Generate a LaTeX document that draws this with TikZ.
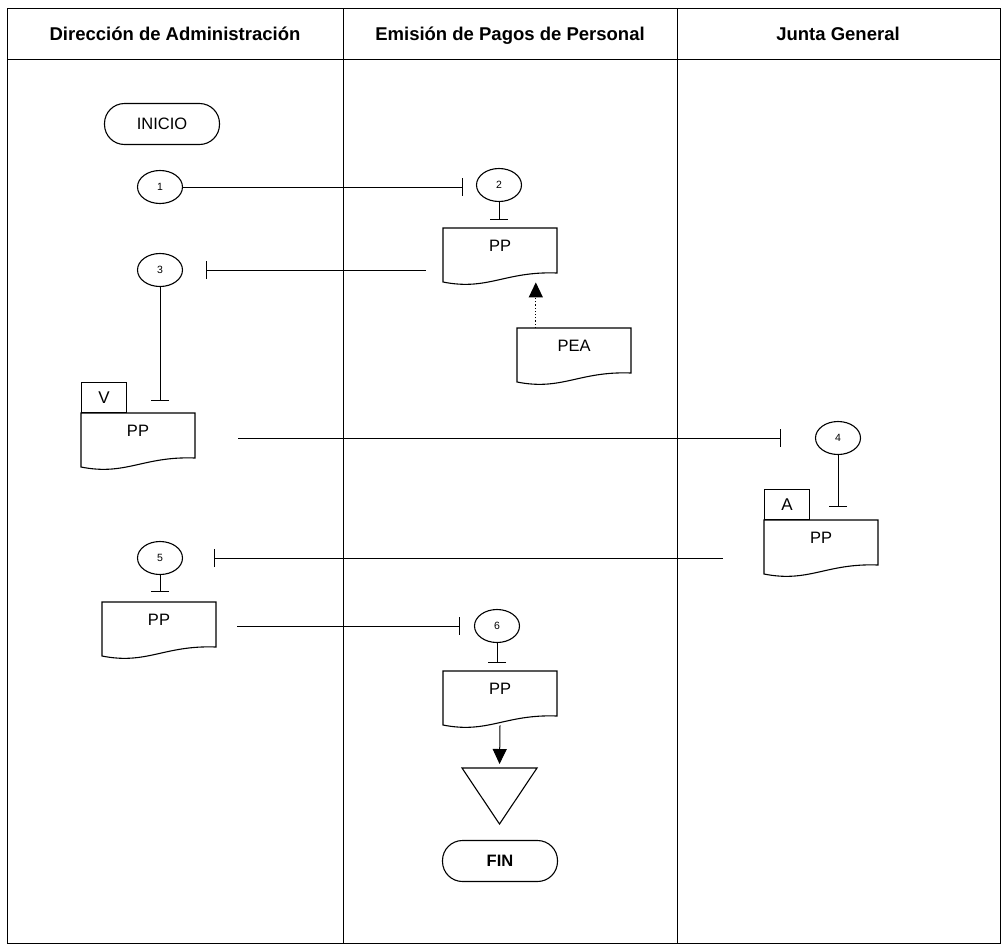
\documentclass[tikz,border=0pt]{standalone}
\usepackage{fontspec}
\setmainfont{Liberation Sans}
\usetikzlibrary{arrows.meta,shapes.geometric,calc}
\newcommand\docshape[4]{%
  \draw[docline] (#2,#3) -- (#2+114,#3) -- (#2+114,#3+45) .. controls (#2+62,#3+43) and (#2+45,#3+63) .. (#2,#3+54) -- cycle;
  \node[docnode] (#1) at (#2+57,#3) {#4};
}
\begin{document}
\begin{tikzpicture}[x=1pt,y=-1pt,
  lane/.style={line width=1pt},
  hdr/.style={font=\bfseries\fontsize{18.5}{22}\selectfont, text height=13.5pt, text depth=0pt, inner sep=0pt},
  term/.style={draw, line width=1.1pt, rounded corners=20pt, minimum width=115pt, minimum height=41pt, inner sep=0pt, font=\fontsize{16.5}{20}\selectfont},
  conn/.style={draw, ellipse, line width=1.1pt, minimum width=45pt, minimum height=33pt, inner sep=0pt, font=\fontsize{10.5}{12}\selectfont},
  docnode/.style={anchor=north, minimum width=114pt, inner xsep=0pt, inner ysep=11pt, text height=12pt, text depth=20pt, font=\fontsize{16.5}{20}\selectfont},
  docline/.style={line width=1.1pt},
  tagbox/.style={draw, line width=1.1pt, minimum width=45pt, minimum height=30pt, inner sep=0pt, anchor=south west, font=\fontsize{17}{20}\selectfont},
  tbar/.style={line width=1pt, -{Bar[width=18pt,line width=1.2pt]}},
  flow/.style={line width=1pt, -{Triangle[width=14pt,length=15pt]}},
  dotflow/.style={line width=1.2pt, dotted, -{Triangle[width=14pt,length=15pt]}}
]
\useasboundingbox (0,0) rectangle (1003,945);
% frame and lanes
\draw[lane] (7,8) rectangle (1000,943);
\draw[lane] (7,59) -- (1000,59);
\draw[lane] (343,8) -- (343,943);
\draw[lane] (677,8) -- (677,943);
\node[hdr] (h1) at (175,34) {Dirección de Administración};
\node[hdr] (h2) at (510,34) {Emisión de Pagos de Personal};
\node[hdr] (h3) at (838,34) {Junta General};
% nodes
\node[term] (inicio) at (162,124) {INICIO};
\node[conn] (c1) at (160,187) {1};
\node[conn] (c2) at (499,185) {2};
\docshape{pp2}{443}{228}{PP}
\docshape{pea}{517}{328}{PEA}
\node[conn] (c3) at (160,270) {3};
\docshape{ppV}{81}{413}{PP}
\node[tagbox] (tv) at (81,413) {V};
\node[conn] (c4) at (838,438) {4};
\docshape{ppA}{764}{520}{PP}
\node[tagbox] (ta) at (764,520) {A};
\node[conn] (c5) at (160,558) {5};
\docshape{pp5}{102}{602}{PP}
\node[conn] (c6) at (497,626) {6};
\docshape{pp6}{443}{671}{PP}
\draw[docline] (462,768) -- (537,768) -- (499.5,824) -- cycle;
\coordinate (arch) at (499.5,768);
\node[term, font=\bfseries\fontsize{16.5}{20}\selectfont] (fin) at (500,861) {FIN};
% connectors
\draw[tbar, shorten >=13pt] (c1.east) -- (c1.east -| c2.west);
\draw[tbar, shorten >=8pt] (c2.south) -- (c2.south |- pp2.north);
\draw[tbar, shorten <=17pt, shorten >=23pt] (pp2.west |- c3.east) -- (c3.east);
\draw[dotflow] ([xshift=19pt]pea.north west) -- ([xshift=19pt]pea.north west |- pp2.south);
\draw[tbar, shorten >=12pt] (c3.south) -- (c3.south |- ppV.north);
\draw[tbar, shorten <=43pt, shorten >=34pt] (ppV.east |- c4.west) -- (c4.west);
\draw[tbar, shorten >=13pt] (c4.south) -- (c4.south |- ppA.north);
\draw[tbar, shorten <=41pt, shorten >=31pt] (ppA.west |- c5.east) -- (c5.east);
\draw[tbar, shorten >=10pt] (c5.south) -- (c5.south |- pp5.north);
\draw[tbar, shorten <=21pt, shorten >=14pt] (pp5.east |- c6.west) -- (c6.west);
\draw[tbar, shorten >=8pt] (c6.south) -- (c6.south |- pp6.north);
\draw[flow, shorten >=4pt] (pp6.south) -- (arch);
\end{tikzpicture}
\end{document}
